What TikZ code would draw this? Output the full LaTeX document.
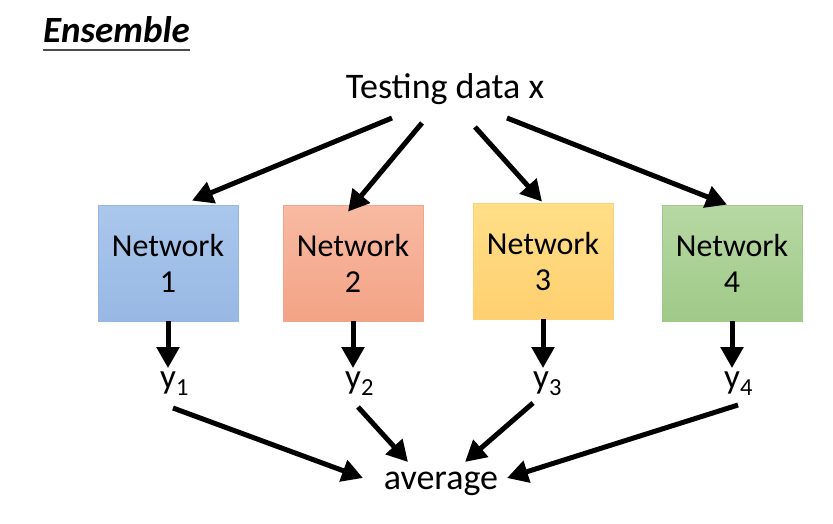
\documentclass[tikz,border=0pt]{standalone}
\usepackage{fontspec}
\setmainfont{Carlito}
\usetikzlibrary{arrows.meta}
\definecolor{blueT}{RGB}{170,199,236}
\definecolor{blueB}{RGB}{152,184,228}
\definecolor{blueE}{RGB}{150,182,225}
\definecolor{redT}{RGB}{248,186,162}
\definecolor{redB}{RGB}{243,163,134}
\definecolor{redE}{RGB}{240,165,140}
\definecolor{yelT}{RGB}{255,223,135}
\definecolor{yelB}{RGB}{255,207,112}
\definecolor{yelE}{RGB}{250,208,120}
\definecolor{grnT}{RGB}{182,216,163}
\definecolor{grnB}{RGB}{160,202,136}
\definecolor{grnE}{RGB}{160,200,140}
\tikzset{
  netbox/.style={rectangle, minimum width=140pt, minimum height=116pt, align=center,
                 inner sep=0pt, line width=0.8pt, font=\fontsize{32}{36}\selectfont},
  lbl/.style={inner sep=0pt, font=\fontsize{36}{40}\selectfont},
  ylbl/.style={inner sep=3pt, font=\fontsize{35}{40}\selectfont},
  arr/.style={-{Triangle[length=21pt,width=22pt]}, line width=5pt}
}
\begin{document}
\begin{tikzpicture}[x=1pt, y=-1pt]
\useasboundingbox (0,0) rectangle (833,524);
% title
\node[anchor=base west, inner sep=0pt, font=\fontsize{37}{42}\selectfont\bfseries\itshape] (title) at (43,43) {Ensemble};
\draw[line width=2pt, black!70] ([yshift=-7pt]title.base west) -- ([yshift=-7pt]title.base east);
% input and networks
\node[lbl, anchor=base] (test) at (445,99) {Testing data x};
\node[netbox, top color=blueT, bottom color=blueB, draw=blueE] (net1) at (168,263) {Network\\1};
\node[netbox, top color=redT, bottom color=redB, draw=redE] (net2) at (353,263) {Network\\2};
\node[netbox, top color=yelT, bottom color=yelB, draw=yelE] (net3) at (543,261) {Network\\3};
\node[netbox, top color=grnT, bottom color=grnB, draw=grnE] (net4) at (732,263) {Network\\4};
% outputs
\node[ylbl, anchor=base west] (y1) at (157,388) {y\textsubscript{1}};
\node[ylbl, anchor=base west] (y2) at (342,388) {y\textsubscript{2}};
\node[ylbl, anchor=base west] (y3) at (530,388) {y\textsubscript{3}};
\node[ylbl, anchor=base west] (y4) at (721,388) {y\textsubscript{4}};
\node[lbl, anchor=base] (avg) at (441,489) {average};
% arrows
\draw[arr] ([shift={(-53,19)}]test.base) -- ([shift={(24,-4)}]net1.north);
\draw[arr] ([shift={(-23,24)}]test.base) -- ([shift={(-5,7)}]net2.north);
\draw[arr] ([shift={(30,28)}]test.base) -- ([shift={(-1,-1)}]net3.north);
\draw[arr] ([shift={(62,19)}]test.base) -- ([shift={(-5,0)}]net4.north);
\foreach \i in {1,...,4}
  \draw[arr] (net\i.south) -- (net\i.south |- y\i.north);
\draw[arr] ([shift={(16,20)}]y1.base west) -- ([shift={(-78,-11)}]avg.base);
\draw[arr] ([shift={(16,19)}]y2.base west) -- ([shift={(-33,-27)}]avg.base);
\draw[arr] ([shift={(3,15)}]y3.base west) -- ([shift={(24,-27)}]avg.base);
\draw[arr] ([shift={(17,17)}]y4.base west) -- ([shift={(66,-11)}]avg.base);
\end{tikzpicture}
\end{document}
